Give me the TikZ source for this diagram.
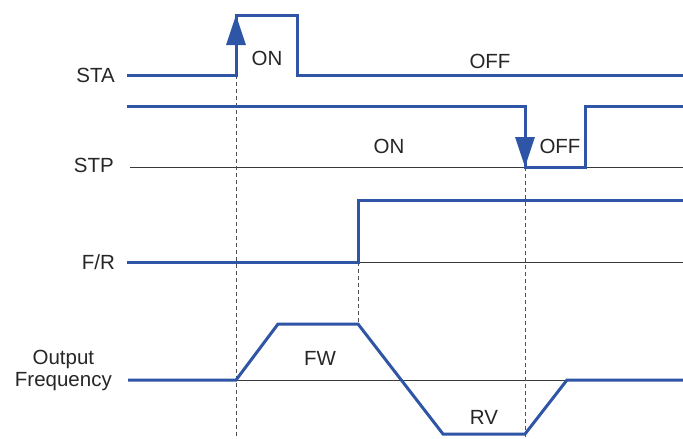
\documentclass[tikz,border=0pt]{standalone}
\usepackage{fontspec}
\setmainfont{Liberation Sans}
\usetikzlibrary{arrows.meta}
\definecolor{sigblue}{HTML}{2F55A6}
\definecolor{thingray}{HTML}{3A3A3A}
\definecolor{dashgray}{HTML}{505050}
\tikzset{
  sig/.style={draw=sigblue, line width=3pt, line join=miter},
  base/.style={draw=thingray, line width=1pt},
  guide/.style={draw=dashgray, line width=0.9pt, dash pattern=on 4pt off 3pt},
  lbl/.style={font=\fontsize{20.5}{22}\selectfont, text=black!85, inner sep=0pt},
  sname/.style={lbl, anchor=east, align=center},
  bigarrow/.style={draw=sigblue, line width=3pt, -{Triangle[length=30pt,width=19pt]}}
}
\begin{document}
\begin{tikzpicture}[x=1pt,y=-1pt]
\useasboundingbox (0,0) rectangle (683,439);
% signal names
\node[sname] (nsta) at (115,75) {STA};
\node[sname] (nstp) at (114,165) {STP};
\node[sname] (nfr)  at (115,262) {F/R};
\node[sname] (nout) at (112,370) {Output\\Frequency};
% coordinates
\coordinate (sta0) at (127,75);
\coordinate (sta1) at (236,75);
\coordinate (sta2) at (236,15);
\coordinate (sta3) at (297,15);
\coordinate (sta4) at (297,75);
\coordinate (sta5) at (683,75);
\coordinate (stp0) at (127,106);
\coordinate (stp1) at (525,106);
\coordinate (stp2) at (525,167);
\coordinate (stp3) at (585,167);
\coordinate (stp4) at (585,106);
\coordinate (stp5) at (683,106);
\coordinate (stpb0) at (130,167);
\coordinate (stpb1) at (683,167);
\coordinate (fr0) at (127,262);
\coordinate (fr1) at (358,262);
\coordinate (fr2) at (358,200);
\coordinate (fr3) at (683,200);
\coordinate (frb1) at (683,262);
\coordinate (of0) at (128,380);
\coordinate (of1) at (236,380);
\coordinate (of2) at (278,324);
\coordinate (of3) at (358,324);
\coordinate (of4) at (443,434);
\coordinate (of5) at (525,434);
\coordinate (of6) at (567,380);
\coordinate (of7) at (683,380);
\coordinate (g1b) at (236,439);
\coordinate (g3b) at (525,439);
% baselines
\draw[base] (stpb0) -- (stpb1);
\draw[base] (fr1) -- (frb1);
\draw[base] (of1) -- (of7);
% guides
\draw[guide] (sta1) -- (g1b);
\draw[guide] (fr1) -- (of3);
\draw[guide] (stp2) -- (g3b);
% signals
\draw[sig] (sta0) -- (sta1) -- (sta2) -- (sta3) -- (sta4) -- (sta5);
\draw[sig] (stp0) -- (stp1) -- (stp2) -- (stp3) -- (stp4) -- (stp5);
\draw[sig] (fr0) -- (fr1) -- (fr2) -- (fr3);
\draw[sig] (of0) -- (of1) -- (of2) -- (of3) -- (of4) -- (of5) -- (of6) -- (of7);
% arrows
\draw[bigarrow] (sta1) -- (sta2);
\draw[bigarrow] (stp1) -- (stp2);
% labels
\node[lbl] (lon1) at (267,58) {ON};
\node[lbl] (loff1) at (490,61) {OFF};
\node[lbl] (lon2) at (389,146) {ON};
\node[lbl] (loff2) at (560,146) {OFF};
\node[lbl] (lfw) at (320,358) {FW};
\node[lbl] (lrv) at (484,417) {RV};
\end{tikzpicture}
\end{document}
